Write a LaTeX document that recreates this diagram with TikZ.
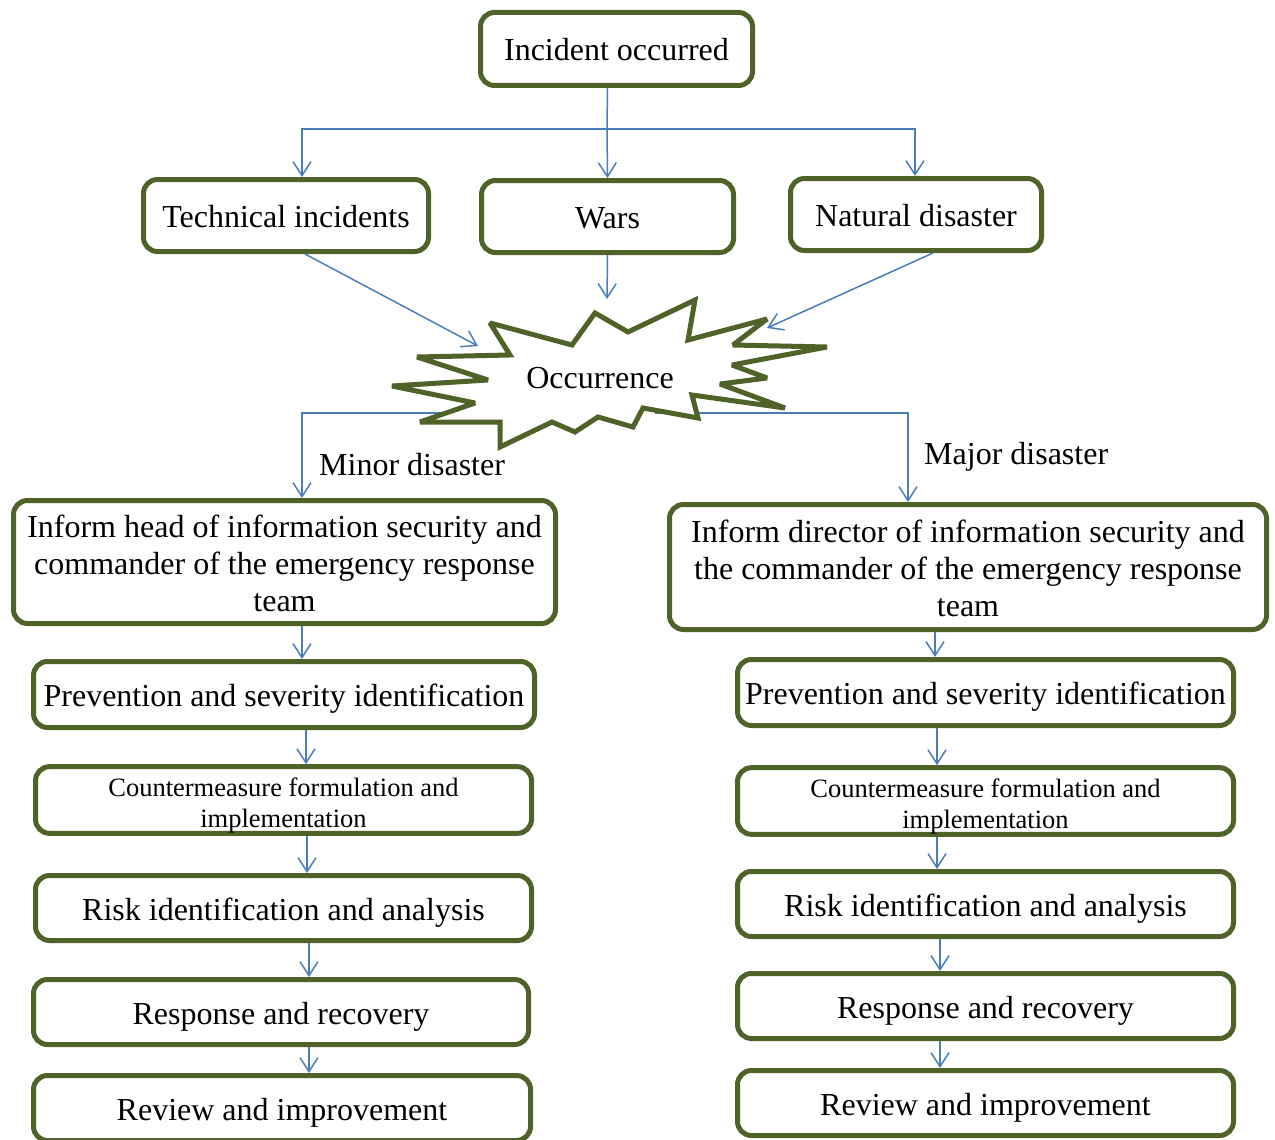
\documentclass[tikz,border=0pt]{standalone}
\usepackage{fontspec}
\setmainfont{Liberation Serif}
\usetikzlibrary{arrows.meta}
\definecolor{boxgreen}{HTML}{4F6228}
\definecolor{arrowblue}{HTML}{4A7EBB}
\tikzset{
  box/.style={draw=boxgreen, line width=5pt, rounded corners=14pt, fill=white,
    inner sep=0pt, align=center, font=\fontsize{32}{37}\selectfont},
  onebox/.style={box, text height=29.5pt, text depth=5.5pt},
  smallbox/.style={box, font=\fontsize{26.5}{31}\selectfont},
  arr/.style={draw=arrowblue, line width=1.5pt, -{Straight Barb[length=14pt,width=18pt]}},
  link/.style={draw=arrowblue, line width=1.5pt},
  lbl/.style={font=\fontsize{32}{37}\selectfont, inner sep=0pt, anchor=west},
  burst/.style={draw=boxgreen, line width=5pt, fill=white, line join=miter, miter limit=2.5},
}
\begin{document}
\begin{tikzpicture}[x=1pt,y=-1pt]
\useasboundingbox (0,0) rectangle (1275,1140);
% top boxes
\node[onebox, minimum width=272pt, minimum height=73pt] (inc) at (616.5,49) {Incident occurred};
\node[onebox, minimum width=285pt, minimum height=72pt] (tech) at (286,215.5) {Technical incidents};
\node[onebox, minimum width=252pt, minimum height=72pt] (wars) at (607.5,216.5) {Wars};
\node[onebox, minimum width=251pt, minimum height=72pt] (nat) at (916,214.5) {Natural disaster};
% left column
\node[box, minimum width=542pt, minimum height=123pt] (L1) at (284.5,562)
  {\rule{0pt}{26pt}Inform head of information security and\\commander of the emergency response\\team};
\node[onebox, minimum width=501pt, minimum height=66pt] (L2) at (284,694.5) {Prevention and severity identification};
\node[smallbox, minimum width=496pt, minimum height=65pt] (L3) at (283.5,800) {\rule{0pt}{30pt}Countermeasure formulation and\\implementation};
\node[onebox, minimum width=496pt, minimum height=65pt] (L4) at (283.5,908) {Risk identification and analysis};
\node[onebox, minimum width=495pt, minimum height=65pt] (L5) at (281,1012) {Response and recovery};
\node[onebox, minimum width=497pt, minimum height=65pt] (L6) at (282,1108) {Review and improvement};
% right column
\node[box, minimum width=597pt, minimum height=125pt] (R1) at (968,567)
  {\rule{0pt}{26pt}Inform director of information security and\\the commander of the emergency response\\team};
\node[onebox, minimum width=496pt, minimum height=66pt] (R2) at (985.5,692.5) {Prevention and severity identification};
\node[smallbox, minimum width=496pt, minimum height=65pt] (R3) at (985.5,801) {\rule{0pt}{30pt}Countermeasure formulation and\\implementation};
\node[onebox, minimum width=496pt, minimum height=65pt] (R4) at (985.5,904) {Risk identification and analysis};
\node[onebox, minimum width=496pt, minimum height=65pt] (R5) at (985.5,1006) {Response and recovery};
\node[onebox, minimum width=496pt, minimum height=65pt] (R6) at (985.5,1103) {Review and improvement};
% labels
\node[lbl] (minor) at (319,465) {Minor disaster};
\node[lbl] (major) at (924,457) {Major disaster};
% coordinates on the burst
\coordinate (split) at (607,129);
\coordinate (tt) at (478,346);
\coordinate (wt) at (607,299);
\coordinate (nt) at (767,328);
\coordinate (bl) at (480,413);
\coordinate (br) at (655,413);
% connectors from top
\draw[link] (inc.south -| wars.north) -- (split);
\draw[arr] (split) -- (wars.north);
\draw[arr] (split) -| ([xshift=16pt]tech.north);
\draw[arr] (split) -| ([xshift=-1pt]nat.north);
\draw[arr] ([xshift=19pt]tech.south) -- (tt);
\draw[arr] (wars.south) -- (wt);
\draw[arr] ([xshift=17pt]nat.south) -- (nt);
% branches below burst (behind it)
\draw[arr] (bl) -| ([xshift=17.5pt]L1.north);
\draw[arr] (br) -| ([xshift=-60pt]R1.north);
% starburst
\draw[burst] (490,323) -- (572,345) -- (595,313) -- (628,332) -- (695,300) -- (688,340)
  -- (767,319) -- (733,345) -- (827,347) -- (732,365) -- (767,378) -- (720,384)
  -- (785,408) -- (692,395) -- (698,418) -- (643,408) -- (633,427) -- (598,417)
  -- (575,432) -- (552,422) -- (500,447) -- (500,422) -- (420,422) -- (475,403)
  -- (392,386) -- (488,380) -- (417,357) -- (510,355) -- cycle;
\node[font=\fontsize{32}{37}\selectfont, inner sep=0pt] (occ) at (600,378) {Occurrence};
% column arrows
\draw[arr] ([xshift=17.5pt]L1.south) -- ([xshift=17.5pt]L1.south |- L2.north);
\draw[arr] ([xshift=22pt]L2.south) -- ([xshift=22pt]L2.south |- L3.north);
\draw[arr] ([xshift=23.5pt]L3.south) -- ([xshift=23.5pt]L3.south |- L4.north);
\draw[arr] ([xshift=25.5pt]L4.south) -- ([xshift=25.5pt]L4.south |- L5.north);
\draw[arr] ([xshift=28pt]L5.south) -- ([xshift=28pt]L5.south |- L6.north);
\draw[arr] ([xshift=-33pt]R1.south) -- ([xshift=-33pt]R1.south |- R2.north);
\draw[arr] ([xshift=-48.5pt]R2.south) -- ([xshift=-48.5pt]R2.south |- R3.north);
\draw[arr] ([xshift=-48.5pt]R3.south) -- ([xshift=-48.5pt]R3.south |- R4.north);
\draw[arr] ([xshift=-45.5pt]R4.south) -- ([xshift=-45.5pt]R4.south |- R5.north);
\draw[arr] ([xshift=-45.5pt]R5.south) -- ([xshift=-45.5pt]R5.south |- R6.north);
\end{tikzpicture}
\end{document}
